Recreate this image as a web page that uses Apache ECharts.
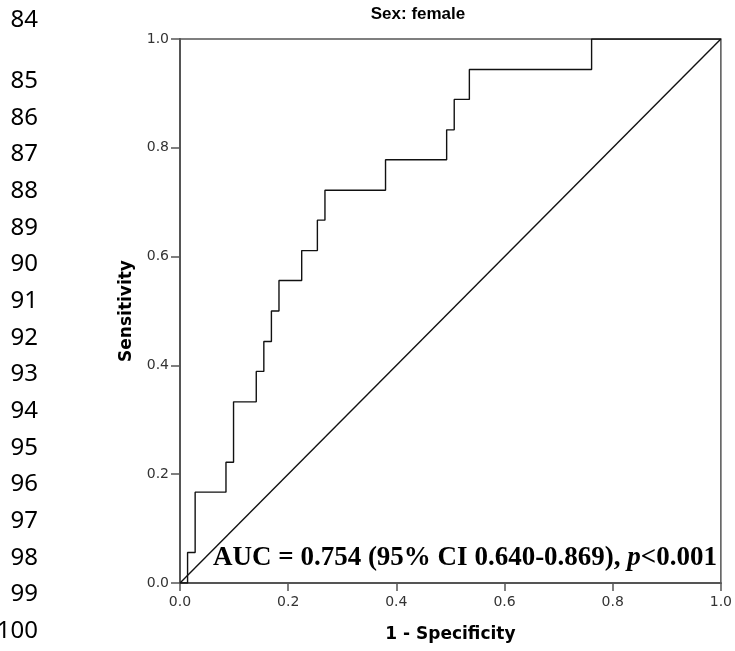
<!DOCTYPE html>
<html>
<head>
<meta charset="utf-8">
<script src="https://cdn.jsdelivr.net/npm/echarts@6/dist/echarts.min.js"></script>
<style>
  html, body { margin: 0; padding: 0; background: #fff; }
  #chart { width: 735px; height: 651px; }
</style>
</head>
<body>
<div id="chart"></div>
<script>
// ---- data ----
const chartTitle = 'Sex: female';
const xAxisTitle = '1 - Specificity';
const yAxisTitle = 'Sensitivity';
// ROC step points: at each 1-specificity value the curve rises to the sensitivity value
const rocFpr = [0, 0.014, 0.028, 0.085, 0.099, 0.141, 0.155, 0.169, 0.183, 0.225, 0.254, 0.268, 0.380, 0.493, 0.507, 0.535, 0.761, 1.0];
const rocTpr = [0, 0.056, 0.167, 0.222, 0.333, 0.389, 0.444, 0.500, 0.556, 0.611, 0.667, 0.722, 0.778, 0.833, 0.889, 0.944, 1.000, 1.000];
const refX = [0, 1];
const refY = [0, 1];
const tickValues = [0.0, 0.2, 0.4, 0.6, 0.8, 1.0];
const lineNumbers = ['84', '85', '86', '87', '88', '89', '90', '91', '92', '93', '94', '95', '96', '97', '98', '99', '100'];
const aucMain = 'AUC = 0.754 (95% CI 0.640-0.869), ';
const aucP = 'p';
const aucTail = '<0.001';

// ---- build ----
const rocData = rocFpr.map((x, i) => [x, rocTpr[i]]);
const refData = refX.map((x, i) => [x, refY[i]]);

const lineNumGraphics = lineNumbers.map((t, i) => ({
  type: 'text',
  style: {
    text: t,
    x: 38,
    y: i === 0 ? 20 : 81 + (i - 1) * 36.67,
    align: 'right',
    verticalAlign: 'middle',
    font: '24px "Noto Sans"',
    fill: '#000'
  }
}));

const chart = echarts.init(document.getElementById('chart'), null, { renderer: 'canvas' });
chart.setOption({
  backgroundColor: '#fff',
  animation: false,
  grid: {
    left: 180, right: 13, top: 39, bottom: 68,
    show: true, borderColor: '#555', borderWidth: 1.5, backgroundColor: 'transparent'
  },
  xAxis: {
    type: 'value', min: 0, max: 1, interval: 0.2,
    name: xAxisTitle, nameLocation: 'middle', nameGap: 43,
    nameTextStyle: { fontFamily: 'DejaVu Sans', fontWeight: 'bold', fontSize: 17, color: '#000' },
    axisLine: { show: true, lineStyle: { color: '#555', width: 2 } },
    axisTick: { show: true, length: 8, lineStyle: { color: '#555', width: 1.5 } },
    axisLabel: { margin: 12, fontFamily: 'DejaVu Sans', fontSize: 14, color: '#333',
      formatter: v => tickValues.includes(+v.toFixed(1)) ? v.toFixed(1) : '' },
    splitLine: { show: false }
  },
  yAxis: {
    type: 'value', min: 0, max: 1, interval: 0.2,
    name: yAxisTitle, nameLocation: 'middle', nameGap: 45,
    nameTextStyle: { fontFamily: 'DejaVu Sans', fontWeight: 'bold', fontSize: 17, color: '#000' },
    axisLine: { show: true, lineStyle: { color: '#555', width: 2 } },
    axisTick: { show: true, length: 9, lineStyle: { color: '#555', width: 1.5 } },
    axisLabel: { margin: 11, fontFamily: 'DejaVu Sans', fontSize: 14, color: '#333',
      formatter: v => v.toFixed(1) },
    splitLine: { show: false }
  },
  series: [
    {
      type: 'line', data: rocData, step: 'end', symbol: 'none',
      lineStyle: { color: '#111', width: 1.4 }, z: 3
    },
    {
      type: 'line', data: refData, symbol: 'none',
      lineStyle: { color: '#111', width: 1.4 }, z: 3
    }
  ],
  graphic: [
    {
      type: 'text',
      style: {
        text: chartTitle, x: 418, y: 14, align: 'center', verticalAlign: 'middle',
        font: 'bold 17px "Liberation Sans"', fill: '#000'
      }
    },
    {
      type: 'text', z: 10,
      style: {
        text: '{a|' + aucMain + '}{p|' + aucP + '}{a|' + aucTail + '}',
        x: 213, y: 558, align: 'left', verticalAlign: 'middle',
        rich: {
          a: { fontFamily: 'Liberation Serif', fontWeight: 'bold', fontSize: 27, fill: '#000', color: '#000' },
          p: { fontFamily: 'Liberation Serif', fontWeight: 'bold', fontStyle: 'italic', fontSize: 27, fill: '#000', color: '#000' }
        }
      }
    }
  ].concat(lineNumGraphics)
});
</script>
</body>
</html>
